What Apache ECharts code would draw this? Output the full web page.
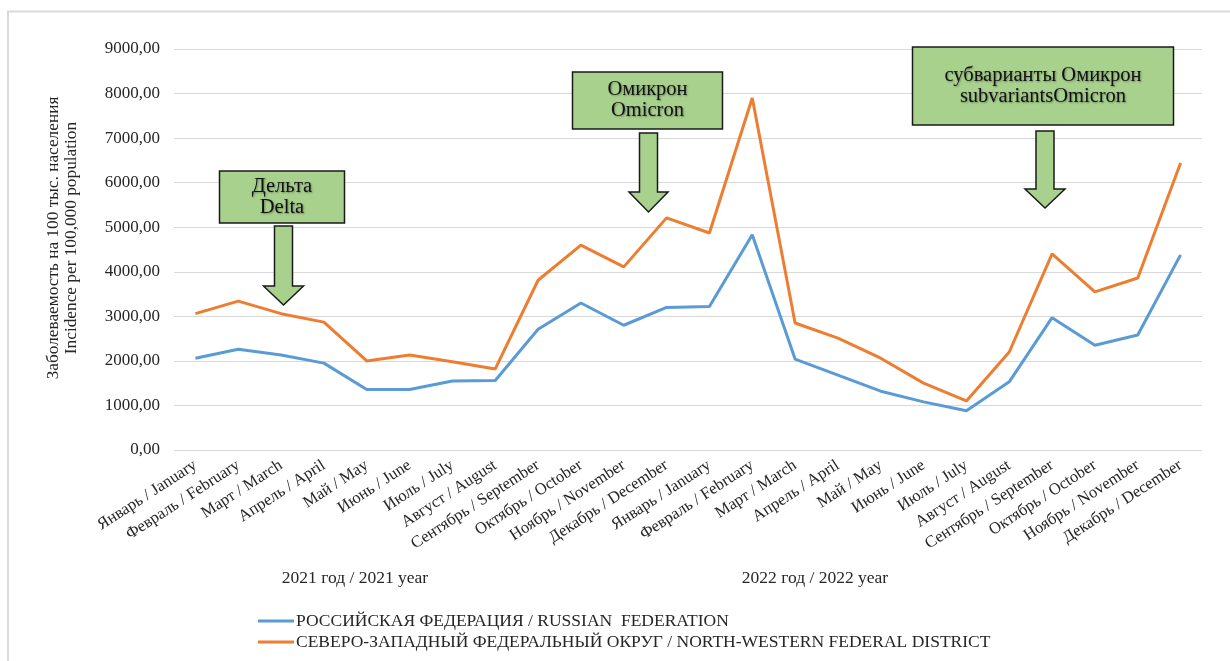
<!DOCTYPE html>
<html>
<head>
<meta charset="utf-8">
<script src="https://cdn.jsdelivr.net/npm/echarts@6/dist/echarts.min.js"></script>
<style>
  html, body { margin: 0; padding: 0; background: #fff; }
  #chart { width: 1230px; height: 661px; }
</style>
</head>
<body>
<div id="chart"></div>
<script>
// Months, two years running (2021 then 2022)
const months = [
  'Январь / January', 'Февраль / February', 'Март / March', 'Апрель / April',
  'Май / May', 'Июнь / June', 'Июль / July', 'Август / August',
  'Сентябрь / September', 'Октябрь / October', 'Ноябрь / November', 'Декабрь / December'
];
const categories = months.concat(months);

// Incidence per 100,000 population
const russiaValues = [
  2060, 2260, 2130, 1950, 1360, 1360, 1550, 1560, 2710, 3300, 2800, 3200,
  3220, 4830, 2040, 1680, 1320, 1080, 880, 1530, 2970, 2350, 2580, 4380
];
const northWestValues = [
  3060, 3340, 3060, 2870, 2000, 2130, 1980, 1820, 3810, 4600, 4110, 5210,
  4870, 7900, 2850, 2510, 2060, 1500, 1100, 2200, 4400, 3550, 3860, 6440
];

const seriesNames = [
  'РОССИЙСКАЯ ФЕДЕРАЦИЯ / RUSSIAN  FEDERATION',
  'СЕВЕРО-ЗАПАДНЫЙ ФЕДЕРАЛЬНЫЙ ОКРУГ / NORTH-WESTERN FEDERAL DISTRICT'
];
const yearLabels = ['2021 год / 2021 year', '2022 год / 2022 year'];
const yAxisTitle = ['Заболеваемость на 100 тыс. населения', 'Incidence per 100,000 population'];
const yTicks = { min: 0, max: 9000, interval: 1000 };

const FONT = '"Liberation Serif", "Times New Roman", serif';
const TEXT = '#262626';
const BOX_FILL = '#a9d18e';
const BOX_LINE = '#1a1a1a';

// Callout: labelled box with a downward arrow beneath it
function callout(box, arrow, lines) {
  const [bx, by, bw, bh] = box;
  const { x, top, headTop, tip, shaftW, headW } = arrow;
  return [
    {
      type: 'rect',
      shape: { x: bx, y: by, width: bw, height: bh },
      style: { fill: BOX_FILL, stroke: BOX_LINE, lineWidth: 1.5 },
      z: 10
    },
    {
      type: 'text',
      x: bx + bw / 2,
      y: by + bh / 2,
      style: {
        text: lines.join('\n'),
        font: '20.5px ' + FONT,
        fill: '#111',
        align: 'center',
        verticalAlign: 'middle',
        lineHeight: 21,
        textShadowColor: 'rgba(0,0,0,0.35)',
        textShadowBlur: 2,
        textShadowOffsetX: 1,
        textShadowOffsetY: 1
      },
      z: 11
    },
    {
      type: 'polygon',
      shape: {
        points: [
          [x - shaftW / 2, top], [x + shaftW / 2, top], [x + shaftW / 2, headTop],
          [x + headW / 2, headTop], [x, tip], [x - headW / 2, headTop],
          [x - shaftW / 2, headTop]
        ]
      },
      style: { fill: BOX_FILL, stroke: BOX_LINE, lineWidth: 1.5 },
      z: 10
    }
  ];
}

const chart = echarts.init(document.getElementById('chart'), null, { renderer: 'canvas' });

const option = {
  backgroundColor: '#fff',
  animation: false,
  color: ['#5b9bd5', '#ed7d31'],
  grid: { left: 174, right: 28, top: 49, bottom: 211, containLabel: false },
  legend: {
    orient: 'vertical',
    left: 253,
    top: 607,
    itemWidth: 36,
    itemHeight: 3,
    itemGap: 3,
    icon: 'rect',
    textStyle: { fontFamily: FONT, fontSize: 17.5, color: TEXT, padding: [0, 0, 0, -3] },
    data: seriesNames
  },
  xAxis: {
    type: 'category',
    data: categories,
    boundaryGap: true,
    axisLine: { show: false },
    axisTick: { show: false },
    axisLabel: {
      interval: 0,
      rotate: 33,
      margin: 14,
      fontFamily: FONT,
      fontSize: 16.5,
      color: TEXT
    }
  },
  yAxis: {
    type: 'value',
    min: yTicks.min,
    max: yTicks.max,
    interval: yTicks.interval,
    axisLine: { show: false },
    axisTick: { show: false },
    splitLine: { lineStyle: { color: '#d9d9d9', width: 1 } },
    axisLabel: {
      margin: 14,
      fontFamily: FONT,
      fontSize: 17,
      color: TEXT,
      formatter: v => v.toFixed(2).replace('.', ',')
    }
  },
  series: [
    {
      name: seriesNames[0],
      type: 'line',
      data: russiaValues,
      symbol: 'none',
      lineStyle: { width: 3 },
      z: 3
    },
    {
      name: seriesNames[1],
      type: 'line',
      data: northWestValues,
      symbol: 'none',
      lineStyle: { width: 3 },
      z: 4
    }
  ],
  graphic: [
    // frame around the chart area
    {
      type: 'polyline',
      shape: { points: [[8, 661], [8, 11.5], [1230, 11.5]] },
      style: { stroke: '#d9d9d9', lineWidth: 2, fill: null },
      silent: true
    },
    // vertical axis title, two lines reading bottom to top
    {
      type: 'text',
      x: 62, y: 238,
      rotation: Math.PI / 2,
      style: {
        text: yAxisTitle.join('\n'),
        font: '17.3px ' + FONT,
        fill: TEXT,
        align: 'center',
        verticalAlign: 'middle',
        lineHeight: 18
      }
    },
    {
      type: 'text', x: 355, y: 578,
      style: { text: yearLabels[0], font: '17.5px ' + FONT, fill: TEXT, align: 'center', verticalAlign: 'middle' }
    },
    {
      type: 'text', x: 815, y: 578,
      style: { text: yearLabels[1], font: '17.5px ' + FONT, fill: TEXT, align: 'center', verticalAlign: 'middle' }
    }
  ]
    .concat(callout([219.5, 171, 125, 52], { x: 283.5, top: 226, headTop: 286, tip: 305, shaftW: 18, headW: 40 }, ['Дельта', 'Delta']))
    .concat(callout([572.5, 72, 150, 57], { x: 648.5, top: 133, headTop: 192, tip: 212, shaftW: 18, headW: 39 }, ['Омикрон', 'Omicron']))
    .concat(callout([912.5, 47, 261, 78], { x: 1045, top: 131, headTop: 189, tip: 208, shaftW: 18, headW: 40 }, ['субварианты Омикрон', 'subvariantsOmicron']))
};

chart.setOption(option);
</script>
</body>
</html>
